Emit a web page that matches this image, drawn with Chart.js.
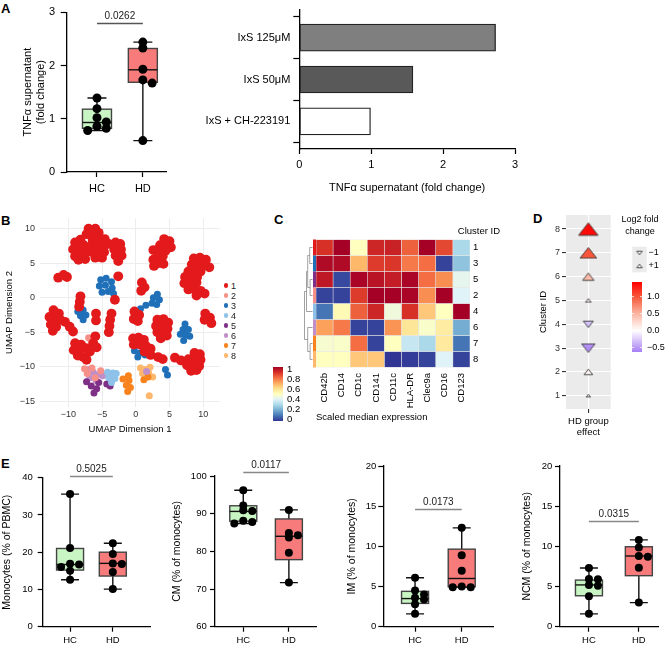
<!DOCTYPE html>
<html>
<head>
<meta charset="utf-8">
<title>Figure</title>
<script src="https://cdn.jsdelivr.net/npm/chart.js@4.4.1/dist/chart.umd.min.js"></script>
<style>
  html, body { margin: 0; padding: 0; background: #fff; }
  #fig { position: relative; width: 669px; height: 648px; overflow: hidden; font-family: 'Liberation Sans', Arial, sans-serif; }
  #fig canvas { position: absolute; }
  .panel { position: absolute; font-size: 13px; line-height: 13px; font-weight: bold; color: #000; }
  .key { position: absolute; font-size: 9px; line-height: 10px; color: #222; }
  .key i { position: absolute; left: -7.2px; top: 2.8px; width: 4.5px; height: 4.5px; border-radius: 50%; }
</style>
</head>
<body>
<div id="fig"></div>
<script>
// ---------- data ----------
const groups = ['HC', 'HD'];

// A: TNFa supernatant, HC vs HD (dots + box: min, q1, median, q3, max)
const tnfHC = [1.39, 1.19, 1.02, 0.94, 0.86, 0.82, 0.78];
const tnfHD = [2.44, 2.33, 1.93, 1.73, 1.67, 0.59];
const tnfBoxHC = [0.78, 0.82, 0.93, 1.18, 1.39];
const tnfBoxHD = [0.59, 1.685, 1.92, 2.32, 2.44];
const tnfP = '0.0262';

// A: IxS stimulation
const ixsLabels = ['IxS 125μM', 'IxS 50μM', 'IxS + CH-223191'];
const ixsValues = [2.73, 1.58, 0.99];

// B: UMAP, one list of [dim1, dim2] per cluster
const clusterNames = ['1', '2', '3', '4', '5', '6', '7', '8'];
const umapTicksX = [-10, -5, 0, 5, 10];
const umapTicksY = [-15, -10, -5, 0, 5, 10];
const umap1 = [
  [-7, 10], [-6, 10], [-5.5, 9.4], [-6.4, 9.2], [-7.3, 9.2],
  [-9, 8], [-8.2, 8.4], [-9.3, 7], [-8.5, 7.2], [-7.7, 7.6], [-9, 6], [-8.2, 6.2], [-7.4, 6.6], [-8.5, 5.5], [-7.5, 5.6],
  [-6.4, 8.4], [-5.5, 8.6], [-4.6, 8.5], [-6.5, 7.6], [-5.6, 7.6], [-4.7, 7.5], [-4, 7.8], [-6.5, 6.6], [-5.6, 6.6], [-4.7, 6.6], [-6, 5.8], [-5, 5.8],
  [-3, 8], [-2.3, 7.8], [-3.2, 7], [-2.2, 7], [-3, 6.1], [-2.1, 6.1], [-2.6, 5.3],
  [4.2, 8.5], [5, 8.2], [4.5, 7.6], [5.2, 7.3], [3.6, 7.6], [4.4, 6.8], [3.3, 6.7], [2.6, 6.9], [3.2, 5.8], [4, 6], [2.6, 5.5], [3.3, 5], [2.7, 4.6], [4.1, 4.9],
  [8.6, 5.7], [9.5, 5.8], [10.4, 5.5], [8.3, 4.8], [9.2, 4.8], [10.1, 4.7], [10.9, 4.4], [7.8, 3.8], [8.7, 3.9], [9.6, 3.8], [7.3, 3], [8.2, 3], [9.1, 3],
  [7.2, 2.1], [8.1, 2.1], [9, 2.2], [7.8, 1.2], [8.7, 1.2], [9.6, 1], [10.2, 0.6], [9, 0.3],
  [-11.5, 2.9], [-10.7, 3.3], [-10.2, 3],
  [-8.2, 0.2], [-8.3, -0.6], [-8.4, -1.3],
  [-12.2, -1.8], [-11.4, -2.3], [-12.8, -2.8], [-12, -3], [-11.2, -3.2], [-12.6, -3.9], [-11.8, -4.2], [-12.3, -4.8],
  [-10.5, -3.5], [-9.8, -4.2], [-9.3, -4.9],
  [-5.9, -2.3], [-5.9, -3.3],
  [-3.6, -2.3], [-3.8, -3.2], [-3.9, -4.1], [-4, -5],
  [-9, -6.6], [-8.1, -6.8], [-9.2, -7.6], [-8.3, -7.6], [-7.4, -7.3], [-8.6, -8.4], [-7.8, -8.6],
  [-6, -5.6], [-6.3, -6.6], [-6.8, -7.8], [-5.8, -7.2], [-7.3, -9],
  [-2.6, 3.1], [-3.1, -0.3],
  [0.9, 2.2], [1.3, 1.5], [0.8, 1],
  [-0.2, -2], [0.5, -2.5], [-0.3, -3.1], [0.3, -3.4],
  [3.2, -3.2], [4.1, -3.1], [4.8, -3.6], [3, -4.1], [3.9, -4], [4.7, -4.5], [3.2, -5], [4.1, -5.1], [3.7, -5.9], [4.6, -5.5],
  [-0.4, -5.9], [0.4, -5.8], [1.2, -6.1], [-0.3, -6.8], [0.6, -6.8], [1.5, -7], [2.2, -7.4], [1.3, -7.8], [2.2, -8.3],
  [3.3, -8.6], [4, -8.9], [5.8, -8.7], [6.7, -9.1],
  [8.7, -8], [9.5, -8.2], [7.8, -8.9], [8.7, -8.9], [9.6, -9], [7.6, -9.8], [8.5, -9.8], [9.4, -9.9], [8.2, -10.6], [9, -10.5],
  [10.3, -2.3], [11, -2.9], [10.2, -3.2], [11.2, -3.7]
];
const umap2 = [[-6.5, -10.2], [-6, -11.6], [-7.2, -11], [-5.2, -10.6], [-7, -5.8], [-6.6, -6.3], [-7.6, -10.3]];
const umap3 = [
  [-5.2, 2.6], [-4.4, 2.8], [-3.6, 2.3], [-5.4, 1.7], [-4.5, 1.8], [-3.5, 1.4], [-5, 0.8], [-4.1, 0.9], [-3.3, 0.6],
  [-8.6, -2], [-7.8, -1.8], [-8.2, -2.6], [-7.4, -2.5], [-7.8, -3.2],
  [3.2, 0.5], [2.6, 0], [3.5, -0.3], [2.4, -0.8], [3.1, -1], [1.5, -1.1], [0.7, -1.6],
  [7.3, -3.8], [7, -4.6], [7.8, -4.6], [6.6, -5.3], [7.4, -5.4], [8, -5.6], [7.1, -6.2],
  [-0.2, -7.7], [0.6, -8], [1.4, -8.3], [0.3, -8.6],
  [4.4, -10.4], [4.7, -11.2]
];
const umap4 = [[-4.2, -10.8], [-3.4, -10.9], [-4, -11.6], [-3.1, -11.7], [-3.6, -12.3], [-2.9, -11]];
const umap5 = [[-7.3, -12.2], [-6.6, -12.8], [-5.8, -13.2], [-5.5, -12.3], [-4.3, -12.5], [-3.8, -12.8], [-6.2, -13.8]];
const umap6 = [[-7, -10.4], [-6.3, -10.8], [-5.6, -11.2], [-6.8, -11.6], [-5.9, -12], [-4.9, -11.3], [1.6, -10.7]];
const umap7 = [[-1.1, -11.3], [-1.9, -11.8], [-1, -12], [-1.4, -12.7], [-0.8, -13], [-1.2, -13.6], [1.2, -11.9], [1.8, -11.5]];
const umap8 = [[0.7, -10.2], [1.4, -10.4], [2.1, -10.1], [1, -11], [1.9, -10.9], [2.5, -11.5], [2, -14.2]];
const umapClusters = [umap1, umap2, umap3, umap4, umap5, umap6, umap7, umap8];

// C: scaled median expression, rows in dendrogram order
const markers = ['CD42b', 'CD14', 'CD1c', 'CD141', 'CD11c', 'HLA-DR', 'Clec9a', 'CD16', 'CD123'];
const heatRows = ['1', '3', '5', '2', '4', '6', '7', '8'];
const heatValues = [
  [0.90, 1.00, 0.50, 0.92, 0.93, 0.82, 1.00, 0.86, 0.30],
  [0.98, 0.98, 0.68, 0.88, 0.89, 0.78, 0.80, 0.02, 0.25],
  [0.95, 0.03, 0.99, 0.96, 0.94, 0.99, 0.80, 0.75, 0.42],
  [0.02, 0.02, 0.88, 1.00, 1.00, 0.99, 0.75, 1.00, 0.40],
  [0.10, 0.52, 0.82, 0.92, 0.45, 0.90, 0.65, 0.50, 1.00],
  [0.72, 0.78, 0.02, 0.02, 0.74, 0.58, 0.48, 0.56, 0.20],
  [0.47, 0.48, 0.80, 0.02, 0.50, 0.35, 0.30, 0.57, 0.10],
  [0.50, 0.50, 0.65, 0.65, 0.00, 0.01, 0.02, 0.40, 0.02]
];
const dendroMerges = [
  ['1', '3', 0.35], ['5', '2', 0.3], ['m0', 'm1', 0.6], ['m2', '4', 0.75],
  ['7', '8', 0.3], ['6', 'm4', 0.6], ['m3', 'm5', 1.0]
];
const heatLegendTicks = [0, 0.2, 0.4, 0.6, 0.8, 1];

// D: HD group effect per cluster
const clusterIds = [1, 2, 3, 4, 5, 6, 7, 8];
const log2fc = [0.03, 0.06, -0.55, -0.3, 0.08, 0.45, 1.0, 1.38];
const effectScore = [0.08, 0.33, 0.61, 0.41, 0.16, 0.49, 0.8, 0.96];
const fcLegendTicks = [1.0, 0.5, 0.0, -0.5];

// E: monocyte subsets
const monoHC = [35.6, 21.1, 16.9, 16.7, 16.0, 15.0, 12.6];
const monoHD = [22.4, 19.5, 17.0, 16.8, 14.7, 10.1];
const monoBoxHC = [12.6, 15.2, 16.7, 21.0, 35.6];
const monoBoxHD = [10.1, 13.6, 17.0, 20.0, 22.4];
const cmHC = [96.2, 92.2, 90.9, 90.7, 88.1, 87.8, 87.4];
const cmHD = [91.0, 84.9, 84.3, 83.7, 79.6, 71.7];
const cmBoxHC = [87.4, 88.0, 90.6, 92.1, 96.2];
const cmBoxHD = [71.7, 77.8, 84.0, 88.6, 91.0];
const imHC = [6.1, 4.5, 4.0, 3.6, 3.4, 2.8, 1.6];
const imHD = [12.3, 8.9, 6.95, 5.0, 4.9, 4.9];
const imBoxHC = [1.6, 2.9, 3.5, 4.4, 6.1];
const imBoxHD = [4.9, 4.97, 6.0, 9.65, 12.3];
const ncmHC = [7.3, 5.95, 5.9, 5.2, 5.1, 3.8, 1.6];
const ncmHD = [10.8, 9.85, 8.8, 8.7, 7.35, 3.0];
const ncmBoxHC = [1.6, 3.85, 5.2, 5.8, 7.3];
const ncmBoxHD = [3.0, 6.35, 8.8, 9.95, 10.8];
const pValuesE = ['0.5025', '0.0117', '0.0173', '0.0315'];

// ---------- styles ----------
const FONT = "'Liberation Sans', Arial, sans-serif";
Chart.defaults.font.family = FONT;
Chart.defaults.color = '#000';
const boxFills = ['#c8f5c3', '#f87b7b'];
const clusterColors = ['#e31a1c', '#f8908a', '#1f70b8', '#8fc2e8', '#7e2f86', '#c18fc8', '#f8821c', '#fdb86e'];
const rdylbu = ['#313695', '#4575b4', '#74add1', '#abd9e9', '#e0f3f8', '#ffffbf', '#fee090', '#fdae61', '#f46d43', '#d73027', '#a50026'];
const fcHi = 1.43, fcLo = -0.63;

const fig = document.getElementById('fig');

function addCanvas(left, top, w, h) {
  const c = document.createElement('canvas');
  c.width = w; c.height = h;
  c.style.left = left + 'px'; c.style.top = top + 'px';
  c.style.width = w + 'px'; c.style.height = h + 'px';
  fig.appendChild(c);
  return c.getContext('2d');
}

function hexRgb(h) {
  const n = parseInt(h.slice(1), 16);
  return [n >> 16, (n >> 8) & 255, n & 255];
}
function ramp(stops, t) {
  t = Math.max(0, Math.min(1, t));
  const k = t * (stops.length - 1);
  const i = Math.min(Math.floor(k), stops.length - 2);
  const a = hexRgb(stops[i]), b = hexRgb(stops[i + 1]), f = k - i;
  return 'rgb(' + a.map((v, j) => Math.round(v + (b[j] - v) * f)).join(',') + ')';
}
function fcColor(v) {
  return v >= 0 ? ramp(['#ffffff', '#fbb8a6', '#f65f40', '#ff0000'], v / fcHi)
                : ramp(['#ffffff', '#a77ef4'], -v / -fcLo);
}
const minus = s => String(s).replace('-', '\u2212');

// spread dots sideways when they would sit on top of each other
function spreadDots(vals, pxY, step) {
  const placed = [];
  return vals.map(v => {
    const yp = v * pxY;
    for (const k of [0, 1, -1, 2, -2, 3, -3]) {
      const dx = k * step;
      if (placed.every(p => Math.hypot(p.dx - dx, p.yp - yp) >= 4.5)) {
        placed.push({ dx, yp });
        return dx;
      }
    }
    return 0;
  });
}

const noUi = { legend: { display: false }, tooltip: { enabled: false } };

// box + whiskers + bracket, drawn from the chart scales
const boxPlugin = {
  id: 'boxes',
  beforeDatasetsDraw(chart, args, o) {
    const { ctx, scales: { x, y } } = chart;
    ctx.save();
    o.boxes.forEach((b, gi) => {
      const cx = x.getPixelForValue(gi + 1);
      const [pMin, pQ1, pMed, pQ3, pMax] = b.map(v => y.getPixelForValue(v));
      const hw = o.boxW / 2, cw = o.capW / 2;
      ctx.lineWidth = 1.4;
      ctx.strokeStyle = '#111';
      ctx.beginPath();
      ctx.moveTo(cx, pMax); ctx.lineTo(cx, pQ3);
      ctx.moveTo(cx, pQ1); ctx.lineTo(cx, pMin);
      ctx.moveTo(cx - cw, pMax); ctx.lineTo(cx + cw, pMax);
      ctx.moveTo(cx - cw, pMin); ctx.lineTo(cx + cw, pMin);
      ctx.stroke();
      ctx.fillStyle = o.fills[gi];
      ctx.fillRect(cx - hw, pQ3, 2 * hw, pQ1 - pQ3);
      ctx.strokeStyle = '#444';
      ctx.strokeRect(cx - hw, pQ3, 2 * hw, pQ1 - pQ3);
      ctx.strokeStyle = '#111';
      ctx.beginPath(); ctx.moveTo(cx - hw, pMed); ctx.lineTo(cx + hw, pMed); ctx.stroke();
    });
    ctx.restore();
  },
  afterDatasetsDraw(chart, args, o) {
    const { ctx, scales: { x, y } } = chart;
    const top = Math.max(...o.boxes.map(b => b[4]));
    const py = Math.round(y.getPixelForValue(top) - o.lift) + 0.5;
    const x1 = x.getPixelForValue(1), x2 = x.getPixelForValue(2);
    ctx.save();
    ctx.strokeStyle = o.lineColor; ctx.lineWidth = 1.3;
    ctx.beginPath(); ctx.moveTo(x1, py); ctx.lineTo(x2, py); ctx.stroke();
    ctx.fillStyle = '#222';
    ctx.font = o.pFont + 'px ' + FONT;
    ctx.textAlign = 'center'; ctx.textBaseline = 'bottom';
    ctx.fillText(o.p, (x1 + x2) / 2, py - 2.5);
    ctx.restore();
  }
};

function boxChart(s) {
  const ctx = addCanvas(s.left, s.top, s.w, s.h);
  const pxX = (s.w - s.yW - s.padR) / (s.xRange[1] - s.xRange[0]);
  const pxY = (s.h - s.padT - s.xH) / (s.yRange[1] - s.yRange[0]);
  const datasets = s.points.map((vals, gi) => {
    const off = spreadDots(vals, pxY, s.step);
    return {
      data: vals.map((v, i) => ({ x: gi + 1 + off[i] / pxX, y: v })),
      backgroundColor: '#000', borderWidth: 0, pointRadius: s.r
    };
  });
  return new Chart(ctx, {
    type: 'scatter',
    data: { datasets },
    plugins: [boxPlugin],
    options: {
      responsive: false, animation: false, devicePixelRatio: 1, events: [],
      layout: { padding: { left: 0, top: s.padT, right: s.padR, bottom: 0 } },
      plugins: {
        ...noUi,
        boxes: { boxes: s.boxes, fills: boxFills, boxW: s.boxW, capW: s.capW, p: s.p, lift: s.lift, lineColor: s.lineColor, pFont: 10 }
      },
      scales: {
        x: {
          type: 'linear', min: s.xRange[0], max: s.xRange[1],
          afterFit: sc => { sc.height = s.xH; },
          afterBuildTicks: sc => { sc.ticks = groups.map((g, i) => ({ value: i + 1 })); },
          ticks: { callback: v => groups[v - 1], autoSkip: false, maxRotation: 0, padding: s.xPad, font: { size: s.tickFont }, color: '#000' },
          grid: { drawOnChartArea: false, tickLength: 5, tickColor: '#000', tickWidth: 1.2 },
          border: { color: '#000', width: 1.3 }
        },
        y: {
          min: s.yRange[0], max: s.yRange[1],
          afterFit: sc => { sc.width = s.yW; },
          ticks: { stepSize: s.yStep, padding: s.tickPad, font: { size: s.tickFont }, color: '#000' },
          grid: { drawOnChartArea: false, tickLength: s.tickLen, tickColor: '#000', tickWidth: 1.2 },
          border: { color: '#000', width: 1.3 },
          title: { display: true, text: s.title, color: '#000', font: { size: s.titleFont, lineHeight: s.titleLH }, padding: { top: s.titlePad, bottom: 0 } }
        }
      }
    }
  });
}

// ---------- panel letters ----------
[['A', 1, 1.6], ['B', 1, 214], ['C', 274, 212.6], ['D', 533, 212.3], ['E', 1, 457.3]].forEach(([t, x, y]) => {
  const d = document.createElement('div');
  d.className = 'panel'; d.textContent = t;
  d.style.left = x + 'px'; d.style.top = y + 'px';
  fig.appendChild(d);
});

// ---------- A: box plot ----------
boxChart({
  left: 0, top: 0, w: 175, h: 200, yW: 66.7, padT: 10, padR: 8.3, xH: 28,
  xRange: [0.34, 2.52], yRange: [0, 3], yStep: 1,
  points: [tnfHC, tnfHD], boxes: [tnfBoxHC, tnfBoxHD], p: tnfP,
  title: ['TNF\u03b1 supernatant', '(fold change)'], titleFont: 11, titleLH: 1.18, titlePad: 21.5,
  tickFont: 11, tickPad: 5.7, tickLen: 6, xPad: 5,
  r: 4.5, step: 9.3, boxW: 29, capW: 19, lift: 19.5, lineColor: '#555'
});

// ---------- A: horizontal bars ----------
new Chart(addCanvas(200, 0, 330, 200), {
  type: 'bar',
  data: {
    datasets: [{
      data: ixsValues.map((v, i) => ({ x: v, y: i })),
      backgroundColor: ['#7f7f7f', '#595959', '#ffffff'],
      borderColor: '#222', borderWidth: 1.3, borderSkipped: false, barThickness: 27
    }]
  },
  options: {
    indexAxis: 'y',
    responsive: false, animation: false, devicePixelRatio: 1, events: [],
    layout: { padding: { left: 0, top: 5, right: 15, bottom: 0 } },
    plugins: noUi,
    scales: {
      x: {
        type: 'linear', min: 0, max: 3,
        afterFit: sc => { sc.height = 51; },
        ticks: { stepSize: 1, padding: 4, font: { size: 11 }, color: '#000' },
        grid: { drawOnChartArea: false, tickLength: 5, tickColor: '#000', tickWidth: 1.2 },
        border: { color: '#000', width: 1.3 },
        title: { display: true, text: 'TNF\u03b1 supernatant (fold change)', color: '#000', font: { size: 11 }, padding: { top: 0, bottom: 5.4 } }
      },
      y: {
        type: 'linear', reverse: true, offset: false, min: -0.67, max: 2.66,
        afterFit: sc => { sc.width = 99.3; },
        afterBuildTicks: sc => { sc.ticks = ixsLabels.map((l, i) => ({ value: i })); },
        ticks: { callback: v => ixsLabels[v], autoSkip: false, padding: 3, font: { size: 11 }, color: '#000' },
        grid: { drawOnChartArea: false, tickLength: 6, tickColor: '#000', tickWidth: 1.2 },
        border: { color: '#000', width: 1.3 }
      }
    }
  }
});

// ---------- B: UMAP ----------
new Chart(addCanvas(0, 200, 225, 240), {
  type: 'scatter',
  data: {
    datasets: umapClusters.map((pts, i) => ({
      label: clusterNames[i],
      data: pts.map(([x, y]) => ({ x, y })),
      backgroundColor: clusterColors[i], borderWidth: 0,
      pointRadius: i === 0 ? 4.9 : 3.5
    }))
  },
  options: {
    responsive: false, animation: false, devicePixelRatio: 1, events: [],
    layout: { padding: { left: 0, top: 18.35, right: 3.3, bottom: 0 } },
    plugins: noUi,
    scales: {
      x: {
        min: -14.2, max: 12.5,
        afterFit: sc => { sc.height = 33.3; },
        afterBuildTicks: sc => { sc.ticks = umapTicksX.map(v => ({ value: v })); },
        ticks: { callback: minus, padding: 2, font: { size: 9 }, color: '#333' },
        grid: { color: '#ebebeb', lineWidth: 0.9, drawTicks: false },
        border: { display: false },
        title: { display: true, text: 'UMAP Dimension 1', color: '#000', font: { size: 9.5 }, padding: { top: 0, bottom: 5.4 } }
      },
      y: {
        min: -15.8, max: 11.5,
        afterFit: sc => { sc.width = 40; },
        afterBuildTicks: sc => { sc.ticks = umapTicksY.map(v => ({ value: v })); },
        ticks: { callback: minus, padding: 5, font: { size: 9 }, color: '#333' },
        grid: { color: '#ebebeb', lineWidth: 0.9, drawTicks: false },
        border: { display: false },
        title: { display: true, text: 'UMAP Dimension 2', color: '#000', font: { size: 9.5 }, padding: { top: 3.6, bottom: 0 } }
      }
    }
  }
});
clusterNames.forEach((name, i) => {
  const d = document.createElement('div');
  d.className = 'key';
  d.style.left = '231px'; d.style.top = (280.7 + 10 * i) + 'px';
  d.innerHTML = '<i style="background:' + clusterColors[i] + '"></i>' + name;
  fig.appendChild(d);
});

// ---------- C: heatmap ----------
const heatExtras = {
  id: 'heatExtras',
  afterDatasetsDraw(chart) {
    const { ctx, chartArea: a, scales: { y } } = chart;
    ctx.save();
    // cluster colour strip
    heatRows.forEach((id, i) => {
      const t = y.getPixelForValue(i - 0.5), b = y.getPixelForValue(i + 0.5);
      ctx.fillStyle = clusterColors[+id - 1];
      ctx.fillRect(a.left - 3, t, 3, b - t);
    });
    // dendrogram
    const nodes = {};
    heatRows.forEach((id, i) => { nodes[id] = { y: y.getPixelForValue(i), h: 0 }; });
    const xOf = h => a.left - 3.5 - h * 8;
    ctx.strokeStyle = '#8a8a8a'; ctx.lineWidth = 0.8;
    ctx.beginPath();
    dendroMerges.forEach(([p, q, h], k) => {
      const A = nodes[p], B = nodes[q], xh = xOf(h);
      ctx.moveTo(xOf(A.h), A.y); ctx.lineTo(xh, A.y); ctx.lineTo(xh, B.y); ctx.lineTo(xOf(B.h), B.y);
      nodes['m' + k] = { y: (A.y + B.y) / 2, h };
    });
    ctx.stroke();
    // colour key
    const bx = a.left - 43, by = a.bottom - 0.5, bw = 10, bh = 54;
    const g = ctx.createLinearGradient(0, by + bh, 0, by);
    rdylbu.forEach((c, i) => g.addColorStop(i / (rdylbu.length - 1), c));
    ctx.fillStyle = g; ctx.fillRect(bx, by, bw, bh);
    ctx.fillStyle = '#000'; ctx.font = '9.5px ' + FONT;
    ctx.textAlign = 'left'; ctx.textBaseline = 'middle';
    heatLegendTicks.forEach(t => {
      ctx.fillText(String(t), bx + bw + 4, by + 2 + (1 - t) * (bh - 4));
    });
    ctx.restore();
  }
};
new Chart(addCanvas(262, 220, 238, 210), {
  type: 'bar',
  data: {
    labels: markers,
    datasets: heatRows.map((id, ri) => ({
      data: markers.map(() => [ri - 0.5, ri + 0.5]),
      backgroundColor: heatValues[ri].map(v => ramp(rdylbu, v)),
      borderColor: 'rgba(225,225,225,0.8)', borderWidth: 0.6, borderSkipped: false,
      grouped: false, categoryPercentage: 1, barPercentage: 1
    }))
  },
  plugins: [heatExtras],
  options: {
    responsive: false, animation: false, devicePixelRatio: 1, events: [],
    layout: { padding: { left: 54, top: 0, right: 0, bottom: 0 } },
    plugins: {
      ...noUi,
      title: { display: true, text: 'Cluster ID', align: 'end', color: '#000', font: { size: 9.5, weight: 'normal' }, padding: { top: 5.3, bottom: 2.8 } }
    },
    scales: {
      x: {
        afterFit: sc => { sc.height = 62.5; },
        ticks: { minRotation: 90, maxRotation: 90, autoSkip: false, padding: 5.5, font: { size: 9.5 }, color: '#000' },
        grid: { display: false, drawTicks: false },
        border: { display: false },
        title: { display: true, text: 'Scaled median expression', align: 'start', color: '#000', font: { size: 9.5 }, padding: { top: 0, bottom: 7.3 } }
      },
      y: {
        type: 'linear', position: 'right', reverse: true, min: -0.5, max: 7.5,
        afterFit: sc => { sc.width = 30; },
        afterBuildTicks: sc => { sc.ticks = heatRows.map((r, i) => ({ value: i })); },
        ticks: { callback: v => heatRows[v], autoSkip: false, padding: 3, font: { size: 9.5 }, color: '#000' },
        grid: { display: false, drawTicks: false },
        border: { display: false }
      }
    }
  }
});

// ---------- D: HD group effect ----------
function triangle(w, fill, down) {
  const h = w * 0.64, c = document.createElement('canvas');
  c.width = Math.ceil(w + 2); c.height = Math.ceil(h + 2);
  const g = c.getContext('2d'), ox = (c.width - w) / 2, oy = (c.height - h) / 2;
  g.beginPath();
  if (down) { g.moveTo(ox, oy); g.lineTo(ox + w, oy); g.lineTo(ox + w / 2, oy + h); }
  else { g.moveTo(ox + w / 2, oy); g.lineTo(ox + w, oy + h); g.lineTo(ox, oy + h); }
  g.closePath();
  g.fillStyle = fill; g.fill();
  g.strokeStyle = '#222'; g.lineWidth = 0.8; g.stroke();
  return c;
}
const dLegend = {
  id: 'dLegend',
  beforeDraw(chart) {
    const { ctx, chartArea: a } = chart;
    ctx.save();
    ctx.fillStyle = '#ebebeb';
    ctx.fillRect(a.left, a.top, a.right - a.left, a.bottom - a.top);
    ctx.restore();
  },
  afterDraw(chart) {
    const { ctx } = chart;
    ctx.save();
    ctx.fillStyle = '#000'; ctx.font = '9px ' + FONT;
    ctx.textAlign = 'center'; ctx.textBaseline = 'middle';
    ctx.fillText('Log2 fold', 110, 15);
    ctx.fillText('change', 110, 27);
    ctx.fillStyle = '#ebebeb';
    ctx.fillRect(102.3, 41.7, 14.4, 25.6);
    const dn = triangle(5.5, '#ffffff', true), up = triangle(5.5, '#ffffff', false);
    ctx.drawImage(dn, 109.5 - dn.width / 2, 48 - dn.height / 2);
    ctx.drawImage(up, 109.5 - up.width / 2, 61 - up.height / 2);
    ctx.fillStyle = '#000'; ctx.textAlign = 'left';
    ctx.fillText('\u22121', 118.5, 48);
    ctx.fillText('+1', 118.5, 61);
    const bx = 102, by = 77, bw = 10, bh = 70;
    const g = ctx.createLinearGradient(0, by, 0, by + bh);
    for (let k = 0; k <= 20; k++) g.addColorStop(k / 20, fcColor(fcHi - (fcHi - fcLo) * k / 20));
    ctx.fillStyle = g; ctx.fillRect(bx, by, bw, bh);
    ctx.strokeStyle = '#fff'; ctx.lineWidth = 0.8;
    ctx.fillStyle = '#000';
    fcLegendTicks.forEach(v => {
      const ty = by + (fcHi - v) / (fcHi - fcLo) * bh;
      ctx.beginPath();
      ctx.moveTo(bx, ty); ctx.lineTo(bx + 2, ty);
      ctx.moveTo(bx + bw - 2, ty); ctx.lineTo(bx + bw, ty);
      ctx.stroke();
      ctx.fillText(minus(v.toFixed(1)), bx + bw + 5, ty);
    });
    ctx.restore();
  }
};
new Chart(addCanvas(530, 205, 139, 240), {
  type: 'scatter',
  data: {
    datasets: [{
      data: clusterIds.map(id => ({ x: 0, y: id })),
      pointRadius: 5,
      pointStyle: c => triangle(3 + 17 * effectScore[c.dataIndex], fcColor(log2fc[c.dataIndex]), log2fc[c.dataIndex] < 0)
    }]
  },
  plugins: [dLegend],
  options: {
    responsive: false, animation: false, devicePixelRatio: 1, events: [],
    layout: { padding: { left: 0, top: 10, right: 58.3, bottom: 0 } },
    plugins: noUi,
    scales: {
      x: {
        min: -1, max: 1,
        afterFit: sc => { sc.height = 36; },
        afterBuildTicks: sc => { sc.ticks = [{ value: 0 }]; },
        ticks: { callback: () => ['HD group', 'effect'], padding: 2, font: { size: 9.5, lineHeight: 1.25 }, color: '#000' },
        grid: { color: '#fff', lineWidth: 1.1, tickLength: 4, tickColor: '#333' },
        border: { display: false }
      },
      y: {
        min: 0.44, max: 8.59,
        afterFit: sc => { sc.width = 36; },
        afterBuildTicks: sc => { sc.ticks = clusterIds.map(v => ({ value: v })); },
        ticks: { padding: 2, font: { size: 9 }, color: '#333' },
        grid: { color: '#fff', lineWidth: 1.1, tickLength: 4, tickColor: '#333' },
        border: { display: false },
        title: { display: true, text: 'Cluster ID', color: '#000', font: { size: 9.5 }, padding: { top: 7.3, bottom: 0 } }
      }
    }
  }
});

// ---------- E: monocyte subsets ----------
const eBase = {
  top: 455, h: 193, xH: 21.3, tickFont: 9.5, tickLen: 5, xPad: 3,
  titleFont: 10.5, titleLH: 1.2, r: 4, step: 9, boxW: 27, capW: 18, lift: 18.5, lineColor: '#888'
};
boxChart({ ...eBase, left: 0, w: 160, yW: 42.7, padT: 22.7, padR: 10, xRange: [0.36, 2.87], yRange: [0, 40], yStep: 10,
  points: [monoHC, monoHD], boxes: [monoBoxHC, monoBoxHD], p: pValuesE[0],
  title: 'Monocytes (% of PBMC)', titlePad: 0.7, tickPad: 5 });
boxChart({ ...eBase, left: 165, w: 160, yW: 50, padT: 21, padR: 8.3, xRange: [0.38, 2.61], yRange: [60, 100], yStep: 10,
  points: [cmHC, cmHD], boxes: [cmBoxHC, cmBoxHD], p: pValuesE[1],
  title: 'CM (% of monocytes)', titlePad: 5.7, tickPad: 3.3 });
boxChart({ ...eBase, left: 330, w: 170, yW: 53.3, padT: 11, padR: 7, xRange: [0.32, 2.67], yRange: [0, 20], yStep: 5,
  points: [imHC, imHD], boxes: [imBoxHC, imBoxHD], p: pValuesE[2],
  title: 'IM (% of monocytes)', titlePad: 15.4, tickPad: 2 });
boxChart({ ...eBase, left: 495, w: 174, yW: 65, padT: 11, padR: 10.7, xRange: [0.42, 2.39], yRange: [0, 20], yStep: 5,
  points: [ncmHC, ncmHD], boxes: [ncmBoxHC, ncmBoxHD], p: pValuesE[3],
  title: 'NCM (% of monocytes)', titlePad: 25.4, tickPad: 2.7 });
</script>
</body>
</html>
